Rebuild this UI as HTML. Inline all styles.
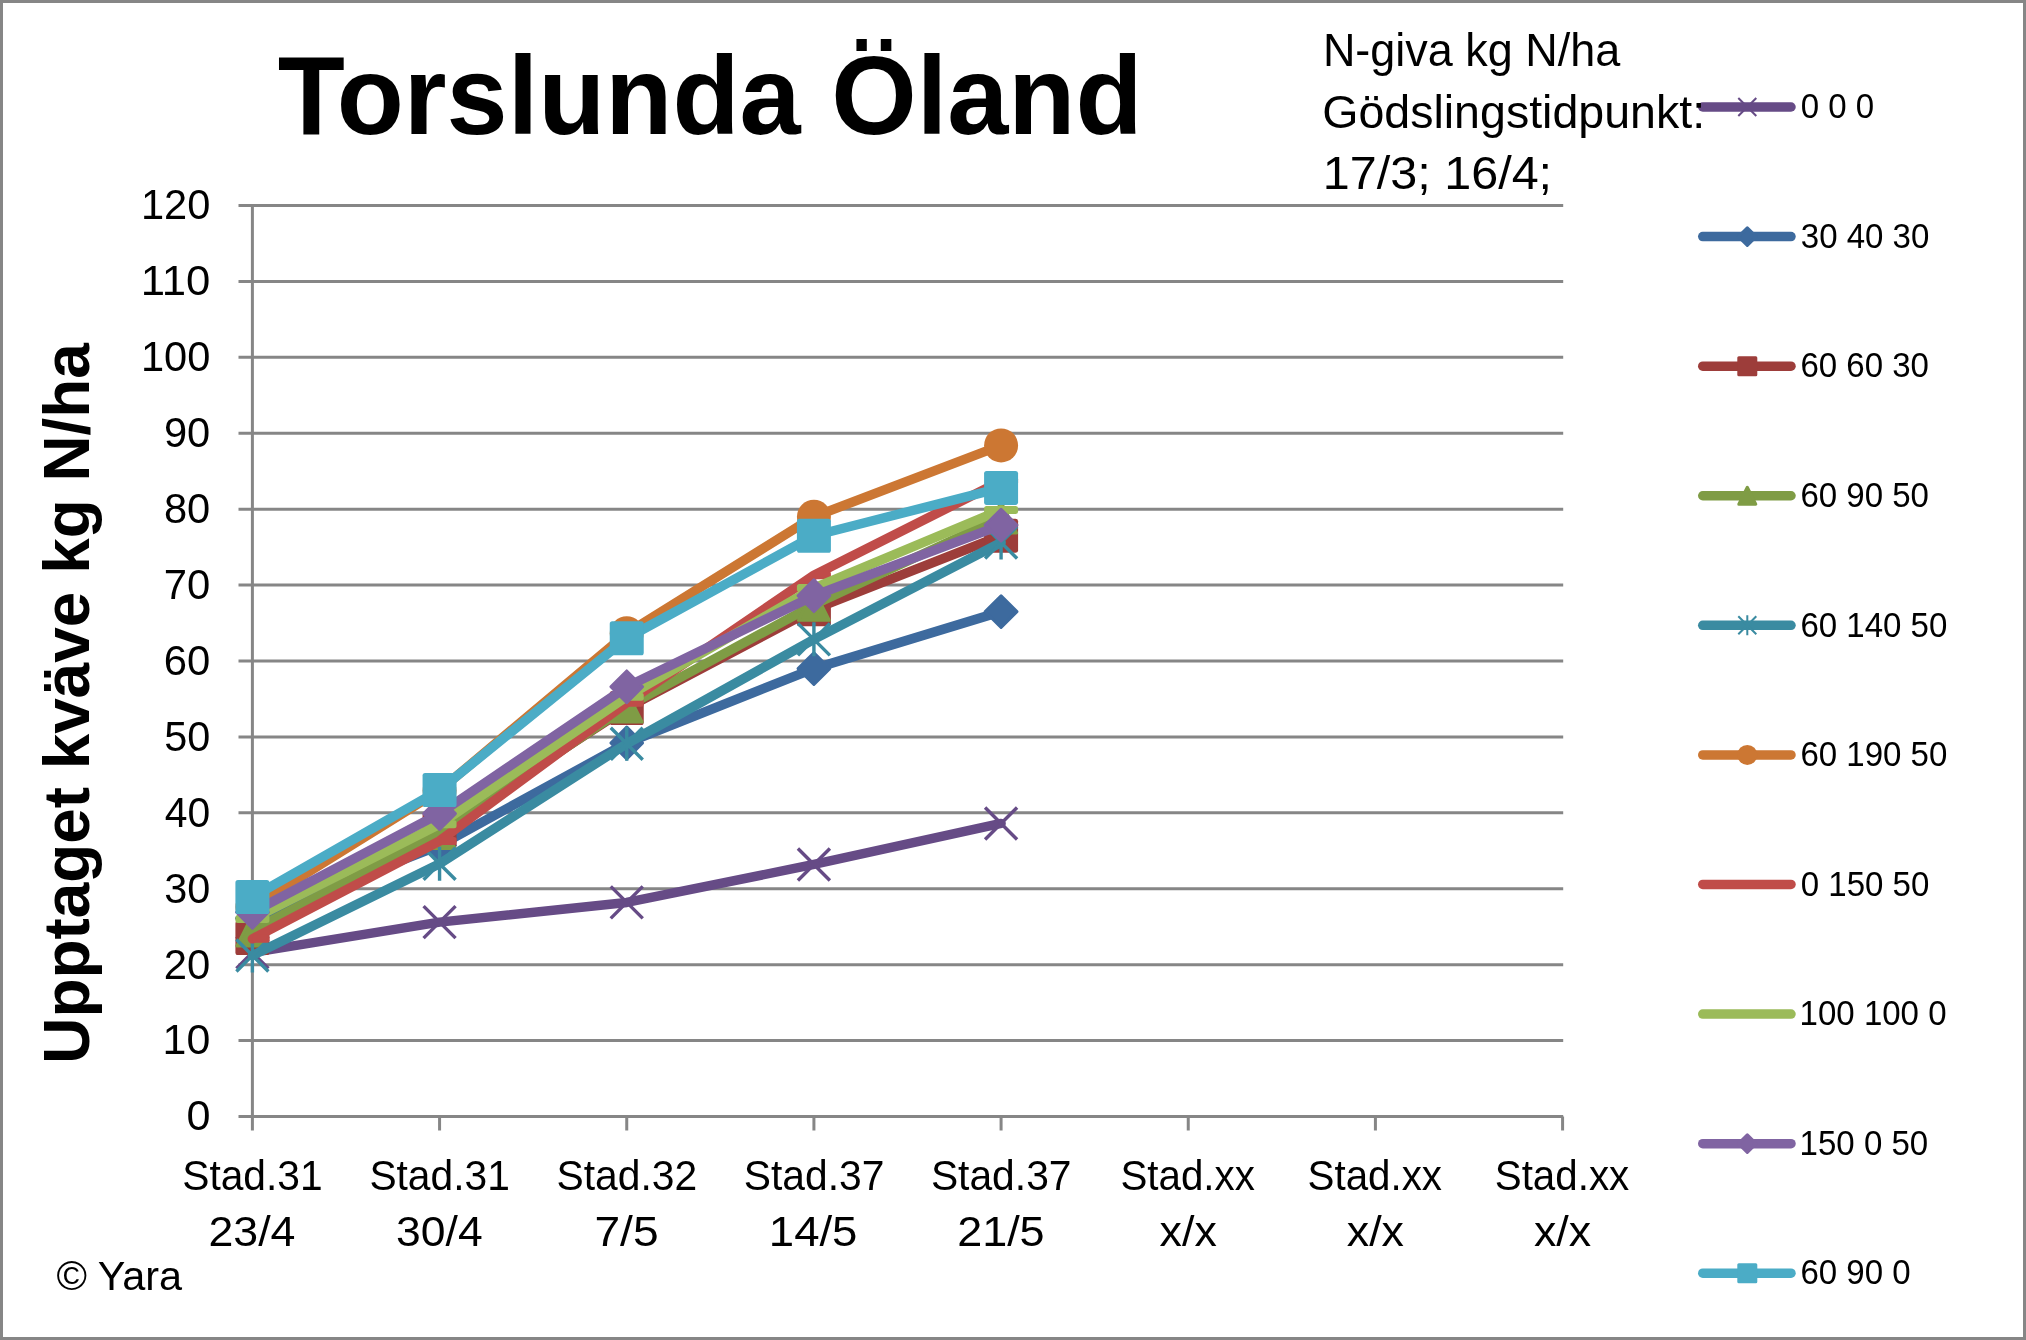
<!DOCTYPE html><html><head><meta charset="utf-8"><style>html,body{margin:0;padding:0;background:#fff;}svg{display:block;will-change:transform;}</style></head><body>
<svg width="2026" height="1340" viewBox="0 0 2026 1340">
<rect x="0" y="0" width="2026" height="1340" fill="#fff"/>
<line x1="238.5" y1="1116.50" x2="1563.2" y2="1116.50" stroke="#868686" stroke-width="3"/>
<line x1="238.5" y1="1040.58" x2="1563.2" y2="1040.58" stroke="#868686" stroke-width="3"/>
<line x1="238.5" y1="964.67" x2="1563.2" y2="964.67" stroke="#868686" stroke-width="3"/>
<line x1="238.5" y1="888.75" x2="1563.2" y2="888.75" stroke="#868686" stroke-width="3"/>
<line x1="238.5" y1="812.83" x2="1563.2" y2="812.83" stroke="#868686" stroke-width="3"/>
<line x1="238.5" y1="736.91" x2="1563.2" y2="736.91" stroke="#868686" stroke-width="3"/>
<line x1="238.5" y1="661.00" x2="1563.2" y2="661.00" stroke="#868686" stroke-width="3"/>
<line x1="238.5" y1="585.08" x2="1563.2" y2="585.08" stroke="#868686" stroke-width="3"/>
<line x1="238.5" y1="509.16" x2="1563.2" y2="509.16" stroke="#868686" stroke-width="3"/>
<line x1="238.5" y1="433.25" x2="1563.2" y2="433.25" stroke="#868686" stroke-width="3"/>
<line x1="238.5" y1="357.33" x2="1563.2" y2="357.33" stroke="#868686" stroke-width="3"/>
<line x1="238.5" y1="281.41" x2="1563.2" y2="281.41" stroke="#868686" stroke-width="3"/>
<line x1="238.5" y1="205.50" x2="1563.2" y2="205.50" stroke="#868686" stroke-width="3"/>
<line x1="252.4" y1="204" x2="252.4" y2="1130.5" stroke="#868686" stroke-width="3"/>
<line x1="439.57" y1="1116.5" x2="439.57" y2="1130.5" stroke="#868686" stroke-width="3"/>
<line x1="626.74" y1="1116.5" x2="626.74" y2="1130.5" stroke="#868686" stroke-width="3"/>
<line x1="813.91" y1="1116.5" x2="813.91" y2="1130.5" stroke="#868686" stroke-width="3"/>
<line x1="1001.08" y1="1116.5" x2="1001.08" y2="1130.5" stroke="#868686" stroke-width="3"/>
<line x1="1188.25" y1="1116.5" x2="1188.25" y2="1130.5" stroke="#868686" stroke-width="3"/>
<line x1="1375.42" y1="1116.5" x2="1375.42" y2="1130.5" stroke="#868686" stroke-width="3"/>
<line x1="1562.59" y1="1116.5" x2="1562.59" y2="1130.5" stroke="#868686" stroke-width="3"/>
<polyline points="252.40,952.52 439.57,922.15 626.74,902.41 813.91,864.46 1001.08,823.46" fill="none" stroke="#664B86" stroke-width="9.5" stroke-linejoin="round" stroke-linecap="round"/>
<path d="M236.40,936.52L268.40,968.52M268.40,936.52L236.40,968.52" stroke="#664B86" stroke-width="3.40" fill="none"/>
<path d="M423.57,906.15L455.57,938.15M455.57,906.15L423.57,938.15" stroke="#664B86" stroke-width="3.40" fill="none"/>
<path d="M610.74,886.41L642.74,918.41M642.74,886.41L610.74,918.41" stroke="#664B86" stroke-width="3.40" fill="none"/>
<path d="M797.91,848.46L829.91,880.46M829.91,848.46L797.91,880.46" stroke="#664B86" stroke-width="3.40" fill="none"/>
<path d="M985.08,807.46L1017.08,839.46M1017.08,807.46L985.08,839.46" stroke="#664B86" stroke-width="3.40" fill="none"/>
<polyline points="252.40,918.36 439.57,845.48 626.74,742.99 813.91,668.59 1001.08,611.65" fill="none" stroke="#3D6A9E" stroke-width="9.5" stroke-linejoin="round" stroke-linecap="round"/>
<polygon points="252.40,902.51 268.25,918.36 252.40,934.21 236.55,918.36" fill="#3D6A9E" stroke="#3D6A9E" stroke-width="3" stroke-linejoin="round"/>
<polygon points="439.57,829.63 455.42,845.48 439.57,861.33 423.72,845.48" fill="#3D6A9E" stroke="#3D6A9E" stroke-width="3" stroke-linejoin="round"/>
<polygon points="626.74,727.14 642.59,742.99 626.74,758.84 610.89,742.99" fill="#3D6A9E" stroke="#3D6A9E" stroke-width="3" stroke-linejoin="round"/>
<polygon points="813.91,652.74 829.76,668.59 813.91,684.44 798.06,668.59" fill="#3D6A9E" stroke="#3D6A9E" stroke-width="3" stroke-linejoin="round"/>
<polygon points="1001.08,595.80 1016.93,611.65 1001.08,627.50 985.23,611.65" fill="#3D6A9E" stroke="#3D6A9E" stroke-width="3" stroke-linejoin="round"/>
<polyline points="252.40,938.10 439.57,829.53 626.74,708.07 813.91,609.37 1001.08,535.73" fill="none" stroke="#9D3D3A" stroke-width="9.5" stroke-linejoin="round" stroke-linecap="round"/>
<rect x="235.40" y="921.10" width="34.00" height="34.00" rx="2.55" fill="#9D3D3A"/>
<rect x="422.57" y="812.53" width="34.00" height="34.00" rx="2.55" fill="#9D3D3A"/>
<rect x="609.74" y="691.07" width="34.00" height="34.00" rx="2.55" fill="#9D3D3A"/>
<rect x="796.91" y="592.37" width="34.00" height="34.00" rx="2.55" fill="#9D3D3A"/>
<rect x="984.08" y="518.73" width="34.00" height="34.00" rx="2.55" fill="#9D3D3A"/>
<polyline points="252.40,930.50 439.57,832.95 626.74,706.55 813.91,604.82 1001.08,517.51" fill="none" stroke="#7F9C45" stroke-width="9.5" stroke-linejoin="round" stroke-linecap="round"/>
<polygon points="252.40,915.00 267.90,946.00 236.90,946.00" fill="#7F9C45" stroke="#7F9C45" stroke-width="3" stroke-linejoin="round"/>
<polygon points="439.57,817.45 455.07,848.45 424.07,848.45" fill="#7F9C45" stroke="#7F9C45" stroke-width="3" stroke-linejoin="round"/>
<polygon points="626.74,691.05 642.24,722.05 611.24,722.05" fill="#7F9C45" stroke="#7F9C45" stroke-width="3" stroke-linejoin="round"/>
<polygon points="813.91,589.32 829.41,620.32 798.41,620.32" fill="#7F9C45" stroke="#7F9C45" stroke-width="3" stroke-linejoin="round"/>
<polygon points="1001.08,502.01 1016.58,533.01 985.58,533.01" fill="#7F9C45" stroke="#7F9C45" stroke-width="3" stroke-linejoin="round"/>
<polyline points="252.40,955.56 439.57,863.70 626.74,743.75 813.91,639.36 1001.08,542.57" fill="none" stroke="#3A8BA1" stroke-width="9.5" stroke-linejoin="round" stroke-linecap="round"/>
<path d="M236.40,939.56L268.40,971.56M268.40,939.56L236.40,971.56M252.40,938.56L252.40,972.56" stroke="#3A8BA1" stroke-width="3.40" fill="none"/>
<path d="M423.57,847.70L455.57,879.70M455.57,847.70L423.57,879.70M439.57,846.70L439.57,880.70" stroke="#3A8BA1" stroke-width="3.40" fill="none"/>
<path d="M610.74,727.75L642.74,759.75M642.74,727.75L610.74,759.75M626.74,726.75L626.74,760.75" stroke="#3A8BA1" stroke-width="3.40" fill="none"/>
<path d="M797.91,623.36L829.91,655.36M829.91,623.36L797.91,655.36M813.91,622.36L813.91,656.36" stroke="#3A8BA1" stroke-width="3.40" fill="none"/>
<path d="M985.08,526.57L1017.08,558.57M1017.08,526.57L985.08,558.57M1001.08,525.57L1001.08,559.57" stroke="#3A8BA1" stroke-width="3.40" fill="none"/>
<polyline points="252.40,906.97 439.57,790.44 626.74,633.29 813.91,516.76 1001.08,445.39" fill="none" stroke="#CC7733" stroke-width="9.5" stroke-linejoin="round" stroke-linecap="round"/>
<circle cx="252.40" cy="906.97" r="17.00" fill="#CC7733"/>
<circle cx="439.57" cy="790.44" r="17.00" fill="#CC7733"/>
<circle cx="626.74" cy="633.29" r="17.00" fill="#CC7733"/>
<circle cx="813.91" cy="516.76" r="17.00" fill="#CC7733"/>
<circle cx="1001.08" cy="445.39" r="17.00" fill="#CC7733"/>
<polyline points="252.40,938.85 439.57,840.92 626.74,702.75 813.91,575.21 1001.08,481.07" fill="none" stroke="#C04C49" stroke-width="9.5" stroke-linejoin="round" stroke-linecap="round"/>
<rect x="252.40" y="934.85" width="17.00" height="8" rx="2.5" fill="#C04C49"/>
<rect x="439.57" y="836.92" width="17.00" height="8" rx="2.5" fill="#C04C49"/>
<rect x="626.74" y="698.75" width="17.00" height="8" rx="2.5" fill="#C04C49"/>
<rect x="813.91" y="571.21" width="17.00" height="8" rx="2.5" fill="#C04C49"/>
<rect x="1001.08" y="477.07" width="17.00" height="8" rx="2.5" fill="#C04C49"/>
<polyline points="252.40,919.12 439.57,824.22 626.74,696.68 813.91,588.12 1001.08,509.92" fill="none" stroke="#9BBB59" stroke-width="9.5" stroke-linejoin="round" stroke-linecap="round"/>
<rect x="235.40" y="915.12" width="34.00" height="8" rx="2.5" fill="#9BBB59"/>
<rect x="422.57" y="820.22" width="34.00" height="8" rx="2.5" fill="#9BBB59"/>
<rect x="609.74" y="692.68" width="34.00" height="8" rx="2.5" fill="#9BBB59"/>
<rect x="796.91" y="584.12" width="34.00" height="8" rx="2.5" fill="#9BBB59"/>
<rect x="984.08" y="505.92" width="34.00" height="8" rx="2.5" fill="#9BBB59"/>
<polyline points="252.40,912.28 439.57,813.59 626.74,686.81 813.91,595.71 1001.08,525.11" fill="none" stroke="#8064A2" stroke-width="9.5" stroke-linejoin="round" stroke-linecap="round"/>
<polygon points="252.40,896.43 268.25,912.28 252.40,928.13 236.55,912.28" fill="#8064A2" stroke="#8064A2" stroke-width="3" stroke-linejoin="round"/>
<polygon points="439.57,797.74 455.42,813.59 439.57,829.44 423.72,813.59" fill="#8064A2" stroke="#8064A2" stroke-width="3" stroke-linejoin="round"/>
<polygon points="626.74,670.96 642.59,686.81 626.74,702.66 610.89,686.81" fill="#8064A2" stroke="#8064A2" stroke-width="3" stroke-linejoin="round"/>
<polygon points="813.91,579.86 829.76,595.71 813.91,611.56 798.06,595.71" fill="#8064A2" stroke="#8064A2" stroke-width="3" stroke-linejoin="round"/>
<polygon points="1001.08,509.26 1016.93,525.11 1001.08,540.96 985.23,525.11" fill="#8064A2" stroke="#8064A2" stroke-width="3" stroke-linejoin="round"/>
<polyline points="252.40,897.10 439.57,790.06 626.74,638.22 813.91,535.73 1001.08,487.91" fill="none" stroke="#4BACC6" stroke-width="9.5" stroke-linejoin="round" stroke-linecap="round"/>
<rect x="235.40" y="880.10" width="34.00" height="34.00" rx="2.55" fill="#4BACC6"/>
<rect x="422.57" y="773.06" width="34.00" height="34.00" rx="2.55" fill="#4BACC6"/>
<rect x="609.74" y="621.22" width="34.00" height="34.00" rx="2.55" fill="#4BACC6"/>
<rect x="796.91" y="518.73" width="34.00" height="34.00" rx="2.55" fill="#4BACC6"/>
<rect x="984.08" y="470.91" width="34.00" height="34.00" rx="2.55" fill="#4BACC6"/>
<line x1="1702.75" y1="107.00" x2="1791" y2="107.00" stroke="#664B86" stroke-width="9.5" stroke-linecap="round"/>
<path d="M1738.30,98.00L1756.30,116.00M1756.30,98.00L1738.30,116.00" stroke="#664B86" stroke-width="2.00" fill="none"/>
<line x1="1702.75" y1="236.58" x2="1791" y2="236.58" stroke="#3D6A9E" stroke-width="9.5" stroke-linecap="round"/>
<polygon points="1747.30,227.73 1756.15,236.58 1747.30,245.43 1738.45,236.58" fill="#3D6A9E" stroke="#3D6A9E" stroke-width="3" stroke-linejoin="round"/>
<line x1="1702.75" y1="366.16" x2="1791" y2="366.16" stroke="#9D3D3A" stroke-width="9.5" stroke-linecap="round"/>
<rect x="1737.30" y="356.16" width="20.00" height="20.00" rx="1.50" fill="#9D3D3A"/>
<line x1="1702.75" y1="495.74" x2="1791" y2="495.74" stroke="#7F9C45" stroke-width="9.5" stroke-linecap="round"/>
<polygon points="1747.30,487.24 1755.80,504.24 1738.80,504.24" fill="#7F9C45" stroke="#7F9C45" stroke-width="3" stroke-linejoin="round"/>
<line x1="1702.75" y1="625.32" x2="1791" y2="625.32" stroke="#3A8BA1" stroke-width="9.5" stroke-linecap="round"/>
<path d="M1738.30,616.32L1756.30,634.32M1756.30,616.32L1738.30,634.32M1747.30,615.32L1747.30,635.32" stroke="#3A8BA1" stroke-width="2.00" fill="none"/>
<line x1="1702.75" y1="754.90" x2="1791" y2="754.90" stroke="#CC7733" stroke-width="9.5" stroke-linecap="round"/>
<circle cx="1747.30" cy="754.90" r="10.00" fill="#CC7733"/>
<line x1="1702.75" y1="884.48" x2="1791" y2="884.48" stroke="#C04C49" stroke-width="9.5" stroke-linecap="round"/>
<line x1="1702.75" y1="1014.06" x2="1791" y2="1014.06" stroke="#9BBB59" stroke-width="9.5" stroke-linecap="round"/>
<line x1="1702.75" y1="1143.64" x2="1791" y2="1143.64" stroke="#8064A2" stroke-width="9.5" stroke-linecap="round"/>
<polygon points="1747.30,1134.79 1756.15,1143.64 1747.30,1152.49 1738.45,1143.64" fill="#8064A2" stroke="#8064A2" stroke-width="3" stroke-linejoin="round"/>
<line x1="1702.75" y1="1273.22" x2="1791" y2="1273.22" stroke="#4BACC6" stroke-width="9.5" stroke-linecap="round"/>
<rect x="1737.30" y="1263.22" width="20.00" height="20.00" rx="1.50" fill="#4BACC6"/>
<text transform="translate(186.47,1130.40) scale(0.4316,0.4266)" font-family="Liberation Sans" font-size="100" font-weight="normal" fill="#000" xml:space="preserve">0</text>
<text transform="translate(162.58,1054.48) scale(0.4290,0.4266)" font-family="Liberation Sans" font-size="100" font-weight="normal" fill="#000" xml:space="preserve">10</text>
<text transform="translate(163.71,978.57) scale(0.4185,0.4266)" font-family="Liberation Sans" font-size="100" font-weight="normal" fill="#000" xml:space="preserve">20</text>
<text transform="translate(164.14,902.65) scale(0.4145,0.4266)" font-family="Liberation Sans" font-size="100" font-weight="normal" fill="#000" xml:space="preserve">30</text>
<text transform="translate(164.78,826.73) scale(0.4086,0.4266)" font-family="Liberation Sans" font-size="100" font-weight="normal" fill="#000" xml:space="preserve">40</text>
<text transform="translate(164.14,750.81) scale(0.4145,0.4266)" font-family="Liberation Sans" font-size="100" font-weight="normal" fill="#000" xml:space="preserve">50</text>
<text transform="translate(163.71,674.90) scale(0.4185,0.4266)" font-family="Liberation Sans" font-size="100" font-weight="normal" fill="#000" xml:space="preserve">60</text>
<text transform="translate(163.71,598.98) scale(0.4185,0.4266)" font-family="Liberation Sans" font-size="100" font-weight="normal" fill="#000" xml:space="preserve">70</text>
<text transform="translate(163.93,523.06) scale(0.4165,0.4266)" font-family="Liberation Sans" font-size="100" font-weight="normal" fill="#000" xml:space="preserve">80</text>
<text transform="translate(163.93,447.15) scale(0.4165,0.4266)" font-family="Liberation Sans" font-size="100" font-weight="normal" fill="#000" xml:space="preserve">90</text>
<text transform="translate(140.88,371.23) scale(0.4161,0.4266)" font-family="Liberation Sans" font-size="100" font-weight="normal" fill="#000" xml:space="preserve">100</text>
<text transform="translate(140.72,295.31) scale(0.4372,0.4266)" font-family="Liberation Sans" font-size="100" font-weight="normal" fill="#000" xml:space="preserve">110</text>
<text transform="translate(140.88,219.40) scale(0.4161,0.4266)" font-family="Liberation Sans" font-size="100" font-weight="normal" fill="#000" xml:space="preserve">120</text>
<text transform="translate(182.22,1190.10) scale(0.4075,0.4331)" font-family="Liberation Sans" font-size="100" font-weight="normal" fill="#000" xml:space="preserve">Stad.31</text>
<text transform="translate(208.46,1245.60) scale(0.4472,0.4230)" font-family="Liberation Sans" font-size="100" font-weight="normal" fill="#000" xml:space="preserve">23/4</text>
<text transform="translate(369.39,1190.10) scale(0.4075,0.4331)" font-family="Liberation Sans" font-size="100" font-weight="normal" fill="#000" xml:space="preserve">Stad.31</text>
<text transform="translate(396.09,1245.60) scale(0.4448,0.4230)" font-family="Liberation Sans" font-size="100" font-weight="normal" fill="#000" xml:space="preserve">30/4</text>
<text transform="translate(556.55,1190.10) scale(0.4081,0.4331)" font-family="Liberation Sans" font-size="100" font-weight="normal" fill="#000" xml:space="preserve">Stad.32</text>
<text transform="translate(594.43,1245.60) scale(0.4615,0.4230)" font-family="Liberation Sans" font-size="100" font-weight="normal" fill="#000" xml:space="preserve">7/5</text>
<text transform="translate(743.72,1190.10) scale(0.4081,0.4331)" font-family="Liberation Sans" font-size="100" font-weight="normal" fill="#000" xml:space="preserve">Stad.37</text>
<text transform="translate(768.79,1245.60) scale(0.4557,0.4230)" font-family="Liberation Sans" font-size="100" font-weight="normal" fill="#000" xml:space="preserve">14/5</text>
<text transform="translate(930.89,1190.10) scale(0.4081,0.4331)" font-family="Liberation Sans" font-size="100" font-weight="normal" fill="#000" xml:space="preserve">Stad.37</text>
<text transform="translate(957.13,1245.60) scale(0.4496,0.4230)" font-family="Liberation Sans" font-size="100" font-weight="normal" fill="#000" xml:space="preserve">21/5</text>
<text transform="translate(1120.44,1190.10) scale(0.4031,0.4331)" font-family="Liberation Sans" font-size="100" font-weight="normal" fill="#000" xml:space="preserve">Stad.xx</text>
<text transform="translate(1159.58,1245.60) scale(0.4480,0.4230)" font-family="Liberation Sans" font-size="100" font-weight="normal" fill="#000" xml:space="preserve">x/x</text>
<text transform="translate(1307.61,1190.10) scale(0.4031,0.4331)" font-family="Liberation Sans" font-size="100" font-weight="normal" fill="#000" xml:space="preserve">Stad.xx</text>
<text transform="translate(1346.75,1245.60) scale(0.4480,0.4230)" font-family="Liberation Sans" font-size="100" font-weight="normal" fill="#000" xml:space="preserve">x/x</text>
<text transform="translate(1494.78,1190.10) scale(0.4031,0.4331)" font-family="Liberation Sans" font-size="100" font-weight="normal" fill="#000" xml:space="preserve">Stad.xx</text>
<text transform="translate(1533.92,1245.60) scale(0.4480,0.4230)" font-family="Liberation Sans" font-size="100" font-weight="normal" fill="#000" xml:space="preserve">x/x</text>
<text transform="translate(277.70,133.80) scale(1.0990,1.1139)" font-family="Liberation Sans" font-size="100" font-weight="bold" fill="#000" xml:space="preserve">Torslunda Öland</text>
<text transform="translate(1322.90,65.80) scale(0.4496,0.4593)" font-family="Liberation Sans" font-size="100" font-weight="normal" fill="#000" xml:space="preserve">N-giva kg N/ha</text>
<text transform="translate(1322.17,128.20) scale(0.4657,0.4578)" font-family="Liberation Sans" font-size="100" font-weight="normal" fill="#000" xml:space="preserve">Gödslingstidpunkt:</text>
<text transform="translate(1322.86,189.00) scale(0.4851,0.4680)" font-family="Liberation Sans" font-size="100" font-weight="normal" fill="#000" xml:space="preserve">17/3; 16/4;</text>
<text transform="translate(56.38,1290.40) scale(0.4142,0.4128)" font-family="Liberation Sans" font-size="100" font-weight="normal" fill="#000" xml:space="preserve">© Yara</text>
<text transform="translate(1800.78,118.20) scale(0.3303,0.3430)" font-family="Liberation Sans" font-size="100" font-weight="normal" fill="#000" xml:space="preserve">0 0 0</text>
<text transform="translate(1800.78,247.78) scale(0.3303,0.3430)" font-family="Liberation Sans" font-size="100" font-weight="normal" fill="#000" xml:space="preserve">30 40 30</text>
<text transform="translate(1800.45,377.36) scale(0.3303,0.3430)" font-family="Liberation Sans" font-size="100" font-weight="normal" fill="#000" xml:space="preserve">60 60 30</text>
<text transform="translate(1800.45,506.94) scale(0.3303,0.3430)" font-family="Liberation Sans" font-size="100" font-weight="normal" fill="#000" xml:space="preserve">60 90 50</text>
<text transform="translate(1800.45,636.52) scale(0.3303,0.3430)" font-family="Liberation Sans" font-size="100" font-weight="normal" fill="#000" xml:space="preserve">60 140 50</text>
<text transform="translate(1800.45,766.10) scale(0.3303,0.3430)" font-family="Liberation Sans" font-size="100" font-weight="normal" fill="#000" xml:space="preserve">60 190 50</text>
<text transform="translate(1800.78,895.68) scale(0.3303,0.3430)" font-family="Liberation Sans" font-size="100" font-weight="normal" fill="#000" xml:space="preserve">0 150 50</text>
<text transform="translate(1799.62,1025.26) scale(0.3303,0.3430)" font-family="Liberation Sans" font-size="100" font-weight="normal" fill="#000" xml:space="preserve">100 100 0</text>
<text transform="translate(1799.62,1154.84) scale(0.3303,0.3430)" font-family="Liberation Sans" font-size="100" font-weight="normal" fill="#000" xml:space="preserve">150 0 50</text>
<text transform="translate(1800.45,1284.42) scale(0.3303,0.3430)" font-family="Liberation Sans" font-size="100" font-weight="normal" fill="#000" xml:space="preserve">60 90 0</text>
<text transform="translate(89.2,1063.73) rotate(-90) scale(0.6388,0.6479)" font-family="Liberation Sans" font-size="100" font-weight="bold" fill="#000">Upptaget kväve kg N/ha</text>
<rect x="1.5" y="1.5" width="2023" height="1337" fill="none" stroke="#868686" stroke-width="3"/>
</svg></body></html>
